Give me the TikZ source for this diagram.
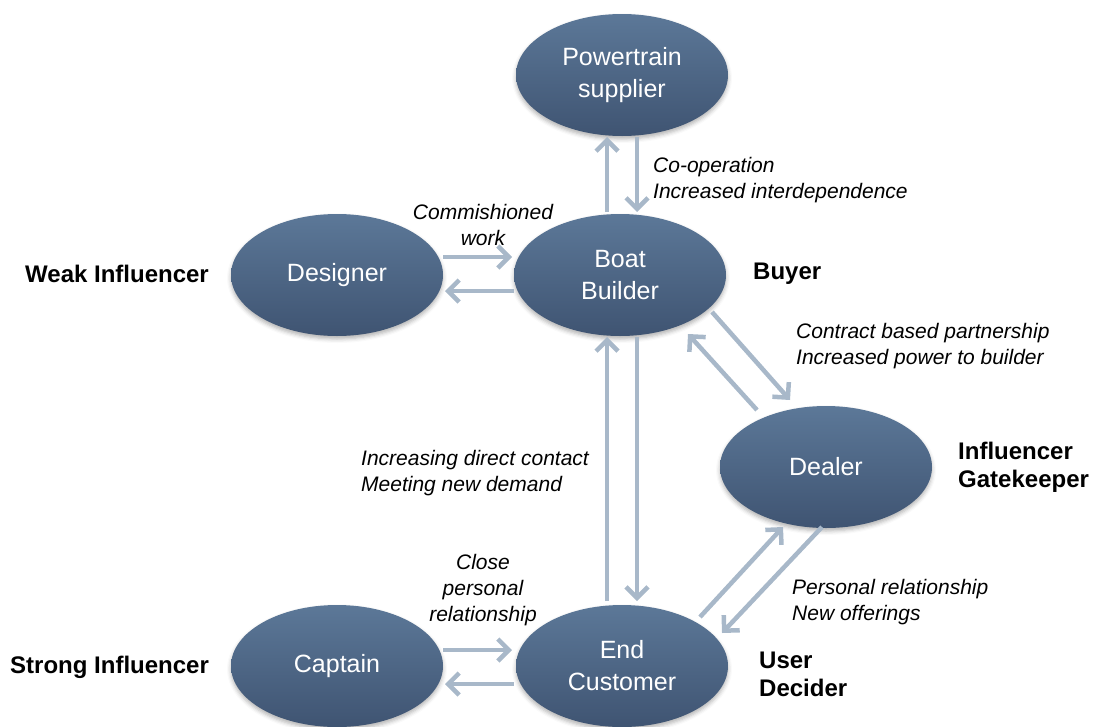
\documentclass[tikz,border=0pt]{standalone}
\usepackage{fontspec}
\setmainfont{Liberation Sans}
\usetikzlibrary{arrows.meta,calc,shapes.geometric,shadows.blur}
\definecolor{nodetop}{HTML}{5C7898}
\definecolor{nodebot}{HTML}{3F5472}
\definecolor{link}{HTML}{A8B8C9}
\begin{document}
\begin{tikzpicture}[x=1pt,y=-1pt,
  actor/.style={ellipse, minimum width=212pt, minimum height=122pt,
    top color=nodetop, bottom color=nodebot, text=white, align=center,
    inner sep=0pt, font=\fontsize{25}{32}\selectfont,
    blur shadow={shadow xshift=0pt, shadow yshift=-3pt,
      shadow blur radius=4pt, shadow opacity=30}},
  flow/.style={draw=link, line width=4.5pt,
    -{Straight Barb[length=11pt,width=22pt]}},
  note/.style={font=\fontsize{21}{26}\selectfont\itshape, align=left,
    anchor=west, inner sep=0pt},
  cnote/.style={note, align=center, anchor=center},
  role/.style={font=\fontsize{24}{28}\selectfont\bfseries, align=left,
    anchor=west, inner sep=0pt}]
\useasboundingbox (0,0) rectangle (1095,726);

% actors
\node[actor] (pt)  at (622,75)  {Powertrain\\supplier};
\node[actor] (des) at (337,275) {Designer};
\node[actor] (bb)  at (620,275) {Boat\\Builder};
\node[actor] (dl)  at (826,467) {Dealer};
\node[actor] (cap) at (337,666) {Captain};
\node[actor] (ec)  at (622,666) {End\\Customer};

% relations
\draw[flow] ($(bb.center)+(-13,-63)$) -- ($(pt.center)+(-15,62)$);
\draw[flow] ($(pt.center)+(15,62)$) -- ($(bb.center)+(17,-63)$);
\draw[flow] ($(des.center)+(106,-18)$) -- ($(bb.center)+(-108,-18)$);
\draw[flow] ($(bb.center)+(-106,16)$) -- ($(des.center)+(108,16)$);
\draw[flow] ($(bb.center)+(92,37)$) -- ($(dl.center)+(-36,-67)$);
\draw[flow] ($(dl.center)+(-69,-57)$) -- ($(bb.center)+(68,59)$);
\draw[flow] ($(bb.center)+(17,62)$) -- ($(ec.center)+(15,-65)$);
\draw[flow] ($(ec.center)+(-15,-65)$) -- ($(bb.center)+(-13,62)$);
\draw[flow] ($(cap.center)+(106,-16)$) -- ($(ec.center)+(-110,-16)$);
\draw[flow] ($(ec.center)+(-108,18)$) -- ($(cap.center)+(108,18)$);
\draw[flow] ($(ec.center)+(78,-49)$) -- ($(dl.center)+(-43,60)$);
\draw[flow] ($(dl.center)+(-4,60)$) -- ($(ec.center)+(100,-33)$);

% relation notes
\node[note]  (n1) at (653,180) {Co-operation\\Increased interdependence};
\node[cnote] (n2) at (483,225) {Commishioned\\work};
\node[note]  (n3) at (796,346) {Contract based partnership\\Increased power to builder};
\node[note]  (n4) at (361,473) {Increasing direct contact\\Meeting new demand};
\node[cnote] (n5) at (483,590) {Close\\personal\\relationship};
\node[note]  (n6) at (792,602) {Personal relationship\\New offerings};

% roles
\node[role] (r1) at (25,274)  {Weak Influencer};
\node[role] (r2) at (753,274) {Buyer};
\node[role] (r3) at (958,467) {Influencer\\Gatekeeper};
\node[role] (r4) at (10,667)  {Strong Influencer};
\node[role] (r5) at (759,674) {User\\Decider};
\end{tikzpicture}
\end{document}
